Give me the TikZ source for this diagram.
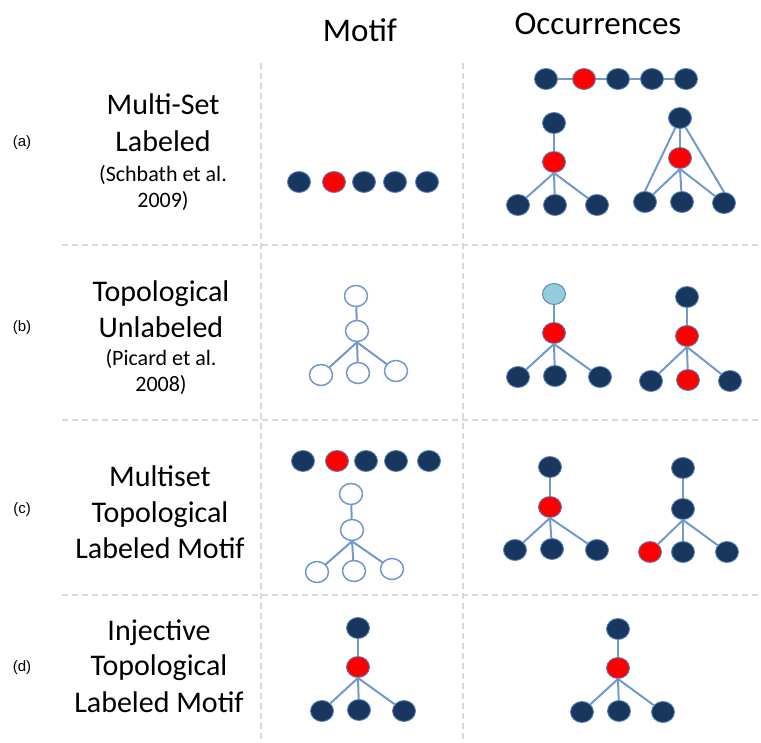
\documentclass[tikz,border=0pt]{standalone}
\usepackage{fontspec}
\setmainfont{Carlito}
\newfontfamily\arialf{Liberation Sans}
\usetikzlibrary{shapes.geometric}
\definecolor{navy}{HTML}{17375E}
\definecolor{edgeblue}{HTML}{7398CC}
\definecolor{rimblue}{HTML}{5A80B8}
\definecolor{lblue}{HTML}{93CDDD}
\definecolor{dashgray}{HTML}{D9D9D9}
\begin{document}
\begin{tikzpicture}[x=1pt,y=-1pt,
 nd/.style={ellipse,inner sep=0pt,minimum width=23pt,minimum height=21pt,draw=rimblue,line width=0.9pt},
 dk/.style={nd,fill=navy},
 rd/.style={nd,fill=red},
 lb/.style={nd,fill=lblue},
 op/.style={nd,fill=white,line width=1.5pt,draw=edgeblue},
 ed/.style={draw=edgeblue,line width=2pt},
 sep/.style={draw=dashgray,line width=1.6pt,dash pattern=on 6pt off 4pt},
 hd/.style={anchor=base,font=\fontsize{33}{40}\selectfont},
 big/.style={anchor=base,font=\fontsize{30}{36}\selectfont},
 small/.style={anchor=base,font=\fontsize{22}{26}\selectfont},
 tag/.style={font=\arialf\fontsize{15}{18}\selectfont}
]
\useasboundingbox (0,0) rectangle (761,743);

% separators
\coordinate (v1t) at (261,63); \coordinate (v1b) at (261,743);
\coordinate (v2t) at (463,63); \coordinate (v2b) at (463,743);
\coordinate (h1l) at (62,245); \coordinate (h1r) at (761,245);
\coordinate (h2l) at (62,420); \coordinate (h2r) at (761,420);
\coordinate (h3l) at (62,595); \coordinate (h3r) at (761,595);
\draw[sep] (v1t) -- (v1b);
\draw[sep] (v2t) -- (v2b);
\draw[sep] (h1l) -- (h1r);
\draw[sep] (h2l) -- (h2r);
\draw[sep] (h3l) -- (h3r);

% headers
\node[hd] (hmotif) at (360,42) {Motif};
\node[hd] (hocc) at (598,35) {Occurrences};

% row labels
\node[tag] (ta) at (22,143) {(a)};
\node[tag] (tb) at (22,328) {(b)};
\node[tag] (tc) at (22,510) {(c)};
\node[tag] (td) at (22,668) {(d)};

% row a text
\node[big] (a1) at (163,115) {Multi-Set};
\node[big] (a2) at (163,152) {Labeled};
\node[small] (a3) at (163,182) {(Schbath et al.};
\node[small] (a4) at (163,208) {2009)};
% row b text
\node[big] (b1) at (161,302) {Topological};
\node[big] (b2) at (161,338) {Unlabeled};
\node[small] (b3) at (161,366) {(Picard et al.};
\node[small] (b4) at (161,392) {2008)};
% row c text
\node[big] (c1) at (160,486) {Multiset};
\node[big] (c2) at (160,522) {Topological};
\node[big] (c3) at (160,558) {Labeled Motif};
% row d text
\node[big] (d1) at (159,640) {Injective};
\node[big] (d2) at (159,675) {Topological};
\node[big] (d3) at (159,712) {Labeled Motif};

% ===== row a =====
% motif multiset
\node[dk] (am1) at (299,182) {};
\node[rd] (am2) at (334,182) {};
\node[dk] (am3) at (364,182) {};
\node[dk] (am4) at (395,182) {};
\node[dk] (am5) at (427,182) {};
% occurrence chain
\node[dk] (ac1) at (546,79) {};
\node[rd] (ac2) at (584,79) {};
\node[dk] (ac3) at (618,79) {};
\node[dk] (ac4) at (652,79) {};
\node[dk] (ac5) at (686,79) {};
\draw[ed] (ac1) -- (ac2) -- (ac3) -- (ac4) -- (ac5);
% occurrence tree 1
\node[dk] (at1) at (554,123) {};
\node[rd] (am) at (554,162) {};
\node[dk] (al1) at (518,205) {};
\node[dk] (al2) at (555,205) {};
\node[dk] (al3) at (597,205) {};
\draw[ed] (at1) -- (am);
\draw[ed] (am.south) -- (al1);
\draw[ed] (am.south) -- (al2);
\draw[ed] (am.south) -- (al3);
% occurrence tree 2
\node[dk] (bt1) at (680,118) {};
\node[rd] (bm) at (680,158) {};
\node[dk] (bl1) at (645,202) {};
\node[dk] (bl2) at (682,202) {};
\node[dk] (bl3) at (724,203) {};
\draw[ed] (bt1) -- (bm);
\draw[ed] (bm.south) -- (bl1);
\draw[ed] (bm.south) -- (bl2);
\draw[ed] (bm.south) -- (bl3);
\draw[ed] (bt1) -- (bl1.north);
\draw[ed] (bt1) -- (bl3.north);

% ===== row b =====
\node[op] (bo1) at (356,296) {};
\node[op] (bo2) at (357,331) {};
\node[op] (bo3) at (321,375) {};
\node[op] (bo4) at (358,373) {};
\node[op] (bo5) at (396,371) {};
\draw[ed] (bo1) -- (bo2);
\draw[ed] (bo2.south) -- (bo3);
\draw[ed] (bo2.south) -- (bo4);
\draw[ed] (bo2.south) -- (bo5);
% occ tree 1
\node[lb] (bx1) at (554,294) {};
\node[rd] (bx2) at (554,333) {};
\node[dk] (bx3) at (518,377) {};
\node[dk] (bx4) at (555,376) {};
\node[dk] (bx5) at (600,377) {};
\draw[ed] (bx1) -- (bx2);
\draw[ed] (bx2.south) -- (bx3);
\draw[ed] (bx2.south) -- (bx4);
\draw[ed] (bx2.south) -- (bx5);
% occ tree 2
\node[dk] (by1) at (687,297) {};
\node[rd] (by2) at (687,336) {};
\node[dk] (by3) at (651,381) {};
\node[rd] (by4) at (688,380) {};
\node[dk] (by5) at (730,381) {};
\draw[ed] (by1) -- (by2);
\draw[ed] (by2.south) -- (by3);
\draw[ed] (by2.south) -- (by4);
\draw[ed] (by2.south) -- (by5);

% ===== row c =====
\node[dk] (cm1) at (303,461) {};
\node[rd] (cm2) at (337,461) {};
\node[dk] (cm3) at (366,461) {};
\node[dk] (cm4) at (396,461) {};
\node[dk] (cm5) at (429,461) {};
\node[op] (co1) at (351,494) {};
\node[op] (co2) at (352,530) {};
\node[op] (co3) at (317,572) {};
\node[op] (co4) at (354,571) {};
\node[op] (co5) at (392,569) {};
\draw[ed] (co1) -- (co2);
\draw[ed] (co2.south) -- (co3);
\draw[ed] (co2.south) -- (co4);
\draw[ed] (co2.south) -- (co5);
% occ tree 1
\node[dk] (cx1) at (550,467) {};
\node[rd] (cx2) at (550,507) {};
\node[dk] (cx3) at (515,550) {};
\node[dk] (cx4) at (552,549) {};
\node[dk] (cx5) at (597,550) {};
\draw[ed] (cx1) -- (cx2);
\draw[ed] (cx2.south) -- (cx3);
\draw[ed] (cx2.south) -- (cx4);
\draw[ed] (cx2.south) -- (cx5);
% occ tree 2
\node[dk] (cy1) at (683,468) {};
\node[dk] (cy2) at (683,509) {};
\node[rd] (cy3) at (650,552) {};
\node[dk] (cy4) at (683,552) {};
\node[dk] (cy5) at (727,552) {};
\draw[ed] (cy1) -- (cy2);
\draw[ed] (cy2.south) -- (cy3);
\draw[ed] (cy2.south) -- (cy4);
\draw[ed] (cy2.south) -- (cy5);

% ===== row d =====
\node[dk] (dm1) at (358,628) {};
\node[rd] (dm2) at (358,667) {};
\node[dk] (dm3) at (322,711) {};
\node[dk] (dm4) at (359,710) {};
\node[dk] (dm5) at (404,711) {};
\draw[ed] (dm1) -- (dm2);
\draw[ed] (dm2.south) -- (dm3);
\draw[ed] (dm2.south) -- (dm4);
\draw[ed] (dm2.south) -- (dm5);
\node[dk] (dx1) at (618,629) {};
\node[rd] (dx2) at (618,668) {};
\node[dk] (dx3) at (582,712) {};
\node[dk] (dx4) at (619,711) {};
\node[dk] (dx5) at (663,712) {};
\draw[ed] (dx1) -- (dx2);
\draw[ed] (dx2.south) -- (dx3);
\draw[ed] (dx2.south) -- (dx4);
\draw[ed] (dx2.south) -- (dx5);
\end{tikzpicture}
\end{document}
